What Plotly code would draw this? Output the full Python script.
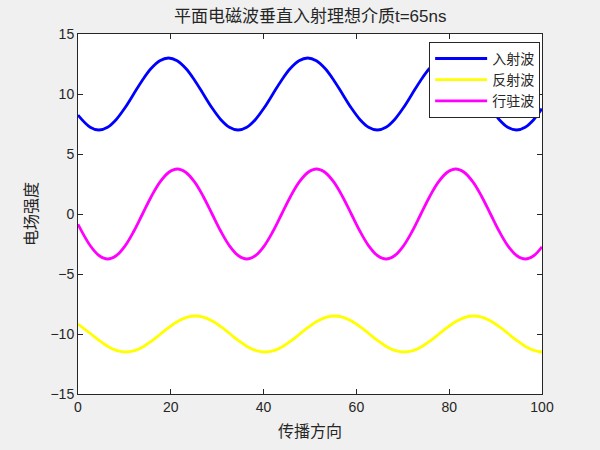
import plotly.graph_objects as go

# values (peaks, troughs, crossings and points between them)
inc_x = [0, 2.625,
         4.5, 6.375, 8.25, 10.125, 12, 13.875, 15.75, 17.625, 19.5, 21.375, 23.25, 25.125, 27, 28.875, 30.75, 32.625,
         34.5, 36.375, 38.25, 40.125, 42, 43.875, 45.75, 47.625, 49.5, 51.375, 53.25, 55.125, 57, 58.875, 60.75, 62.625,
         64.5, 66.375, 68.25, 70.125, 72, 73.875, 75.75, 77.625, 79.5, 81.375, 83.25, 85.125, 87, 88.875, 90.75, 92.625,
         94.5, 96.375, 98.25, 100]
inc_y = [8.24, 7.23,
         7.0, 7.23, 7.88, 8.85, 10.0, 11.15, 12.12, 12.77, 13.0, 12.77, 12.12, 11.15, 10.0, 8.85, 7.88, 7.23,
         7.0, 7.23, 7.88, 8.85, 10.0, 11.15, 12.12, 12.77, 13.0, 12.77, 12.12, 11.15, 10.0, 8.85, 7.88, 7.23,
         7.0, 7.23, 7.88, 8.85, 10.0, 11.15, 12.12, 12.77, 13.0, 12.77, 12.12, 11.15, 10.0, 8.85, 7.88, 7.23,
         7.0, 7.23, 7.88, 8.78]

ref_x = [0, 2.8, 4.675, 6.55, 8.425,
         10.3, 12.175, 14.05, 15.925, 17.8, 19.675, 21.55, 23.425, 25.3, 27.175, 29.05, 30.925, 32.8, 34.675, 36.55, 38.425,
         40.3, 42.175, 44.05, 45.925, 47.8, 49.675, 51.55, 53.425, 55.3, 57.175, 59.05, 60.925, 62.8, 64.675, 66.55, 68.425,
         70.3, 72.175, 74.05, 75.925, 77.8, 79.675, 81.55, 83.425, 85.3, 87.175, 89.05, 90.925, 92.8, 94.675, 96.55, 98.425,
         100]
ref_y = [-9.17, -10.0, -10.57, -11.06, -11.39,
         -11.5, -11.39, -11.06, -10.57, -10.0, -9.43, -8.94, -8.61, -8.5, -8.61, -8.94, -9.43, -10.0, -10.57, -11.06, -11.39,
         -11.5, -11.39, -11.06, -10.57, -10.0, -9.43, -8.94, -8.61, -8.5, -8.61, -8.94, -9.43, -10.0, -10.57, -11.06, -11.39,
         -11.5, -11.39, -11.06, -10.57, -10.0, -9.43, -8.94, -8.61, -8.5, -8.61, -8.94, -9.43, -10.0, -10.57, -11.06, -11.39,
         -11.5]

sw_x = [0, 2.65, 4.525,
        6.4, 8.275, 10.15, 12.025, 13.9, 15.775, 17.65, 19.525, 21.4, 23.275, 25.15, 27.025, 28.9, 30.775, 32.65, 34.525,
        36.4, 38.275, 40.15, 42.025, 43.9, 45.775, 47.65, 49.525, 51.4, 53.275, 55.15, 57.025, 58.9, 60.775, 62.65, 64.525,
        66.4, 68.275, 70.15, 72.025, 73.9, 75.775, 77.65, 79.525, 81.4, 83.275, 85.15, 87.025, 88.9, 90.775, 92.65, 94.525,
        96.4, 98.275, 100]
sw_y = [-0.86, -2.65, -3.46,
        -3.75, -3.46, -2.65, -1.44, 0.0, 1.44, 2.65, 3.46, 3.75, 3.46, 2.65, 1.44, 0.0, -1.44, -2.65, -3.46,
        -3.75, -3.46, -2.65, -1.44, 0.0, 1.44, 2.65, 3.46, 3.75, 3.46, 2.65, 1.44, 0.0, -1.44, -2.65, -3.46,
        -3.75, -3.46, -2.65, -1.44, 0.0, 1.44, 2.65, 3.46, 3.75, 3.46, 2.65, 1.44, 0.0, -1.44, -2.65, -3.46,
        -3.75, -3.46, -2.73]

names = ["入射波", "反射波", "行驻波"]
colors = ["#0000ff", "#ffff00", "#ff00ff"]

FONT = "Liberation Sans, Noto Sans CJK SC, sans-serif"

fig = go.Figure()
for xs, ys, nm, c in zip([inc_x, ref_x, sw_x], [inc_y, ref_y, sw_y], names, colors):
    fig.add_trace(go.Scatter(
        x=xs, y=ys, name=nm, mode="lines",
        line=dict(color=c, width=2.8, shape="spline", smoothing=1.0),
    ))

axis_style = dict(
    showgrid=False, zeroline=False,
    showline=True, linecolor="#262626", linewidth=1, mirror="ticks",
    ticks="inside", ticklen=5, tickcolor="#262626",
    tickfont=dict(size=14, color="#262626"),
)

fig.update_layout(
    width=600, height=450,
    paper_bgcolor="#f0f0f0", plot_bgcolor="white",
    font=dict(family=FONT, color="#262626"),
    margin=dict(l=78, r=58, t=34, b=54),
    title=dict(text="平面电磁波垂直入射理想介质t=65ns", x=0.517, xanchor="center",
               y=0.965, yanchor="middle", font=dict(size=17, color="#262626")),
    xaxis=dict(range=[0, 100], tickvals=[0, 20, 40, 60, 80, 100],
               title=dict(text="传播方向", font=dict(size=16), standoff=12), **axis_style),
    yaxis=dict(range=[-15, 15], tickvals=[-15, -10, -5, 0, 5, 10, 15],
               title=dict(text="电场强度", font=dict(size=16), standoff=8), **axis_style),
    legend=dict(x=0.996, y=0.978, xanchor="right", yanchor="top",
                bgcolor="white", bordercolor="#262626", borderwidth=1,
                font=dict(size=14, color="#262626"), tracegroupgap=0, itemwidth=52),
    showlegend=True,
)

# drop the page's default body margin so the figure sits at the window corner
fig.write_html("out.html", config={"displayModeBar": False},
               post_script="document.body.style.margin='0';document.body.style.background='#f0f0f0';")
